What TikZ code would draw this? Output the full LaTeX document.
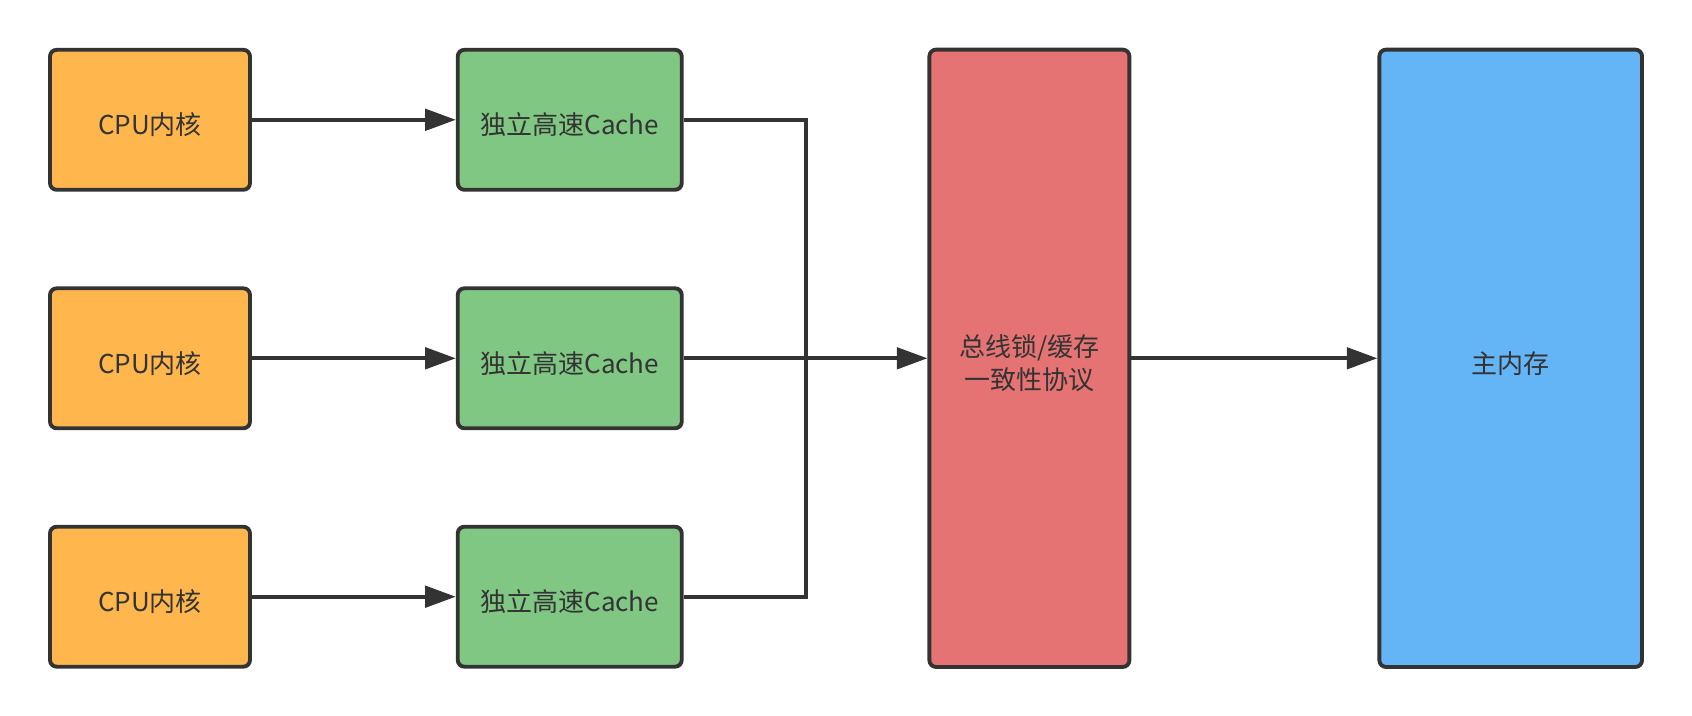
\documentclass[tikz,border=0pt]{standalone}
\usepackage{fontspec}
\setmainfont{Noto Sans CJK SC}
\usetikzlibrary{arrows.meta}
\definecolor{cpuorange}{HTML}{FFB74D}
\definecolor{cachegreen}{HTML}{81C784}
\definecolor{busred}{HTML}{E57373}
\definecolor{memblue}{HTML}{64B5F6}
\definecolor{strokegray}{HTML}{333333}
\definecolor{textgray}{HTML}{333333}
\newcommand{\dnshift}[1]{\raisebox{-3.7pt}[\height][\depth]{#1}}
\begin{document}
\begin{tikzpicture}[x=0.75pt,y=-0.75pt,
  boxbase/.style={draw=strokegray, line width=2.9pt, rounded corners=5pt,
    text=textgray, font=\fontsize{19.5}{25.3}\selectfont, align=center, inner sep=0pt},
  cpubox/.style={boxbase, fill=cpuorange, minimum width=150pt, minimum height=105pt},
  cachebox/.style={boxbase, fill=cachegreen, minimum width=168pt, minimum height=105pt},
  busbox/.style={boxbase, fill=busred, minimum width=150pt, minimum height=463pt},
  membox/.style={boxbase, fill=memblue, minimum width=197pt, minimum height=463pt},
  link/.style={draw=strokegray, line width=2.9pt},
  arrowlink/.style={link, -{Triangle[length=23pt, width=16pt]}}]
\useasboundingbox (0,0) rectangle (1692,716);
\node[cpubox] (c1) at (150,119.8) {\dnshift{CPU内核}};
\node[cpubox] (c2) at (150,358.3) {\dnshift{CPU内核}};
\node[cpubox] (c3) at (150,596.7) {\dnshift{CPU内核}};
\node[cachebox] (g1) at (569.75,119.8) {\dnshift{独立高速Cache}};
\node[cachebox] (g2) at (569.75,358.3) {\dnshift{独立高速Cache}};
\node[cachebox] (g3) at (569.75,596.7) {\dnshift{独立高速Cache}};
\node[busbox] (r) at (1029.4,358.3) {\dnshift{总线锁/缓存}\\\dnshift{一致性协议}};
\node[membox] (m) at (1510.7,358.3) {\dnshift{主内存}};
\coordinate (bend) at (806,596.7);
\draw[arrowlink] (c1) -- (g1);
\draw[arrowlink] (c2) -- (g2);
\draw[arrowlink] (c3) -- (g3);
\draw[link] (g1.east) -| (bend) -- (g3.east);
\draw[arrowlink] (g2) -- (r);
\draw[arrowlink] (r) -- (m);
\end{tikzpicture}
\end{document}
